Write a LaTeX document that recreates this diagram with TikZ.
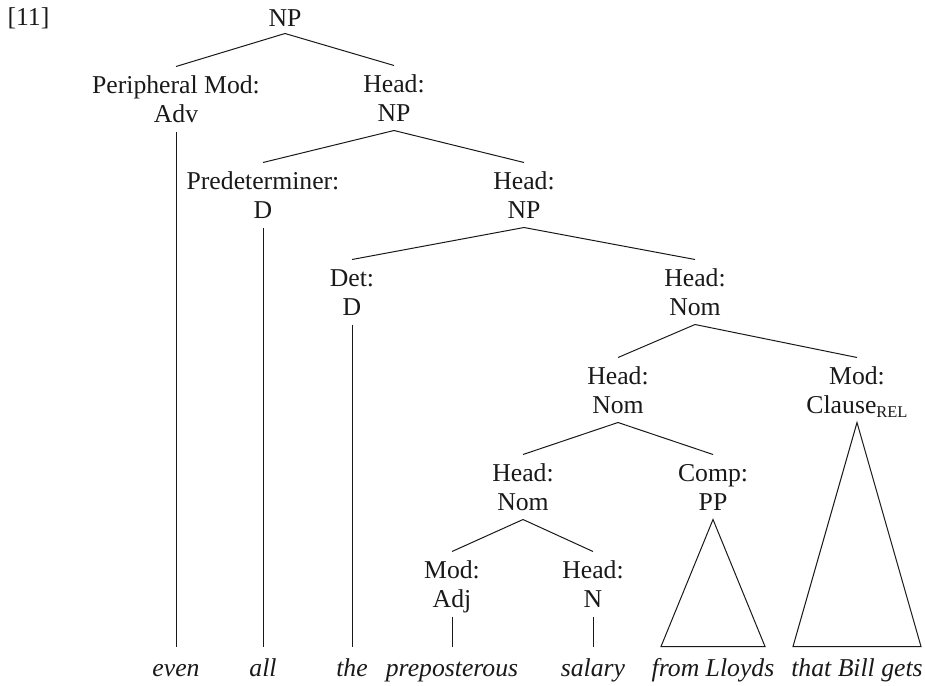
\documentclass[tikz,border=0pt]{standalone}
\usepackage{fontspec}
\setmainfont{Liberation Serif}
\newcommand{\treefont}{\fontsize{25.7}{29}\selectfont}
\newcommand{\relsub}{\raisebox{-4pt}{\fontsize{16.5}{16.5}\selectfont REL}}

\begin{document}
\begin{tikzpicture}[x = 1pt, y = -1pt, line width = 1pt, black!90,
                    lbl/.style = {align = center, anchor = base, font = \treefont, inner xsep = 0pt,
                                  inner ysep = 9pt, text height = 46pt, text depth = 0pt},
                    rootbox/.style = {anchor = base, font = \treefont, inner sep = 6pt,
                                      text height = 17pt, text depth = 0pt},
                    word/.style = {anchor = base, font = \treefont\itshape, inner xsep = 0pt,
                                   inner ysep = 9pt, text height = 20pt, text depth = 0pt}]
    \useasboundingbox (0, 0) rectangle (925, 685);
    \node [rootbox, anchor = base west] (num) at (1, 26) {[11]};
    \node [rootbox] (np) at (285, 27) {NP};
    \node [lbl] (pmod) at (176, 122) {Peripheral Mod:\\Adv};
    \node [lbl] (hnp1) at (394, 121) {Head:\\NP};
    \node [lbl] (predet) at (263, 218) {Predeterminer:\\D};
    \node [lbl] (hnp2) at (524, 218) {Head:\\NP};
    \node [lbl] (det) at (352, 315) {Det:\\D};
    \node [lbl] (hnom1) at (695, 315) {Head:\\Nom};
    \node [lbl] (hnom2) at (618, 413) {Head:\\Nom};
    \node [lbl] (modcl) at (857, 413) {Mod:\\Clause\relsub};
    \node [lbl] (hnom3) at (523, 510) {Head:\\Nom};
    \node [lbl] (comp) at (713, 510) {Comp:\\PP};
    \node [lbl] (modadj) at (452, 607) {Mod:\\Adj};
    \node [lbl] (hn) at (593, 607) {Head:\\N};
    \node [word] (even) at (176, 676) {even};
    \node [word] (all) at (263, 676) {all};
    \node [word] (the) at (352, 676) {the};
    \node [word] (prep) at (452, 676) {preposterous};
    \node [word] (salary) at (593, 676) {salary};
    \node [word] (lloyds) at (713, 676) {from Lloyds};
    \node [word] (bill) at (857, 676) {that Bill gets};
    \draw (np.south) -- (pmod.north);
    \draw (np.south) -- (hnp1.north);
    \draw (hnp1.south) -- (predet.north);
    \draw (hnp1.south) -- (hnp2.north);
    \draw (hnp2.south) -- (det.north);
    \draw (hnp2.south) -- (hnom1.north);
    \draw (hnom1.south) -- (hnom2.north);
    \draw (hnom1.south) -- (modcl.north);
    \draw (hnom2.south) -- (hnom3.north);
    \draw (hnom2.south) -- (comp.north);
    \draw (hnom3.south) -- (modadj.north);
    \draw (hnom3.south) -- (hn.north);
    \draw (pmod.south) -- (even.north);
    \draw (predet.south) -- (all.north);
    \draw (det.south) -- (the.north);
    \draw (modadj.south) -- (prep.north);
    \draw (hn.south) -- (salary.north);
    \draw (comp.south) -- ([xshift = -52pt]lloyds.north) -- ([xshift = 52pt]lloyds.north) -- cycle;
    \draw (modcl.south) -- ([xshift = -64pt]bill.north) -- ([xshift = 64pt]bill.north) -- cycle;
  \end{tikzpicture}
\end{document}
